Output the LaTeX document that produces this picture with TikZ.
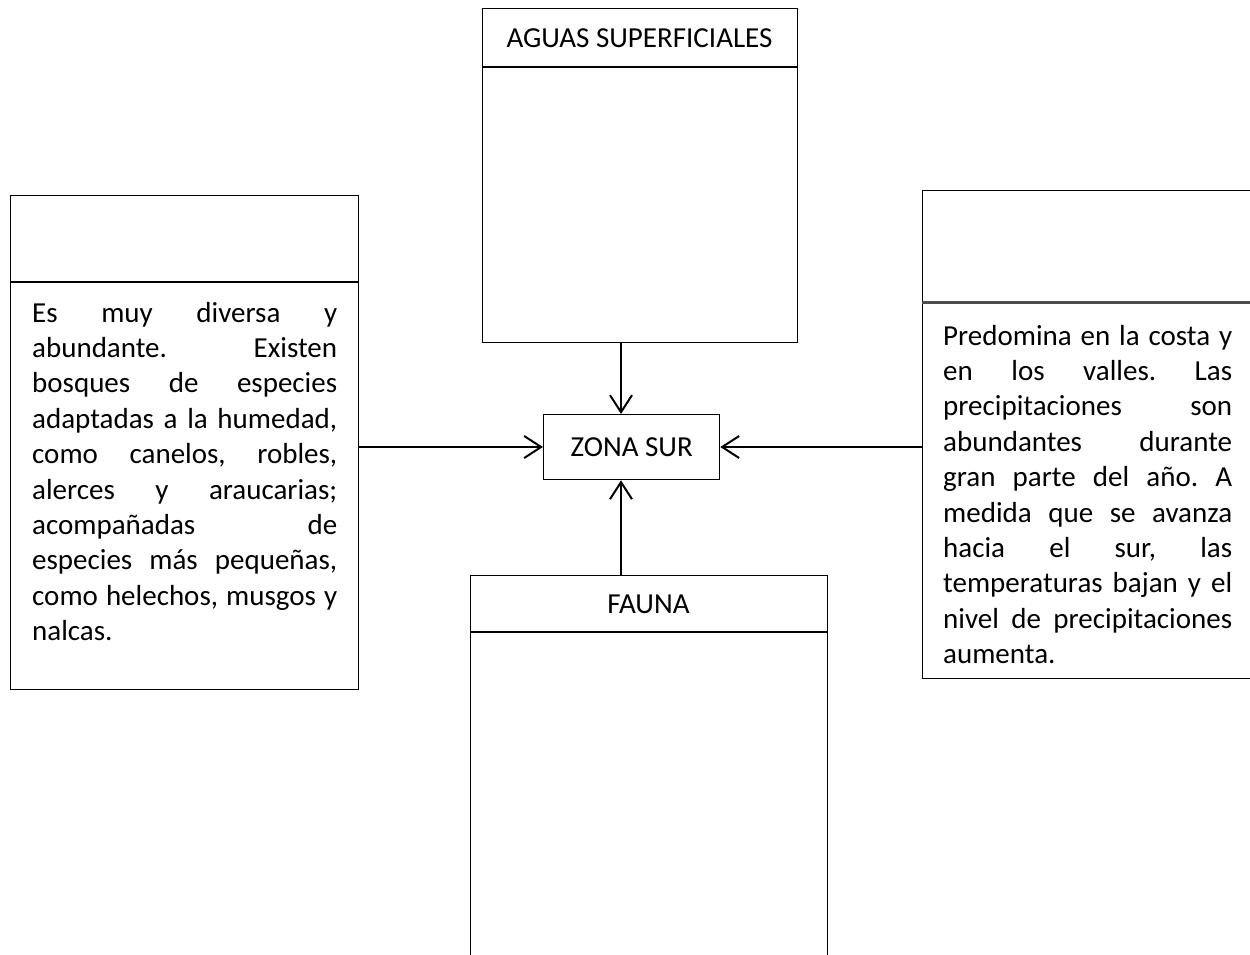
\documentclass[tikz,border=0pt]{standalone}
\usepackage{fontspec}
\setmainfont{Carlito}
\usetikzlibrary{arrows.meta}
\frenchspacing
\begin{document}
\begin{tikzpicture}[x=1pt,y=-1pt,
  box/.style={draw=black, line width=1.3pt, rectangle, inner sep=0pt, anchor=north west},
  txt/.style={font=\fontsize{29}{35.4}\selectfont},
  head/.style={txt, anchor=base, inner sep=0pt},
  body/.style={txt, text width=#1, align=justify, inner sep=0pt, anchor=north west},
  divider/.style={line width=1.3pt},
  arr/.style={line width=2pt, -{Straight Barb[length=17pt,width=22pt]}}]
\clip (0,0) rectangle (1250,954);
\fill[white] (0,0) rectangle (1250,954);

% boxes
\node[box, minimum width=315pt, minimum height=334pt] (aguas) at (482,8) {};
\node[box, minimum width=348pt, minimum height=494pt] (flora) at (10,195) {};
\node[box, minimum width=338pt, minimum height=488pt] (clima) at (922,190) {};
\node[box, minimum width=357pt, minimum height=405pt] (fauna) at (470,575) {};
\node[box, minimum width=176pt, minimum height=65pt, txt] (zona) at (543,414) {ZONA SUR};

% dividers
\draw[divider] ([yshift=-59pt]aguas.north west) -- ([yshift=-59pt]aguas.north east);
\draw[divider] ([yshift=-87pt]flora.north west) -- ([yshift=-87pt]flora.north east);
\draw[line width=3pt, black!70] ([yshift=-112pt]clima.north west) -- ([yshift=-112pt]clima.north east);
\draw[divider] ([yshift=-57pt]fauna.north west) -- ([yshift=-57pt]fauna.north east);

% header texts
\node[head] (aguast) at (639.5,47) {AGUAS SUPERFICIALES};
\node[head] (faunat) at (648.5,613) {FAUNA};

% body texts
\node[body=305pt] (florat) at (32,297.2) {\strut Es muy diversa y\linebreak
abundante. Existen\linebreak
bosques de especies\linebreak
adaptadas a la humedad,\linebreak
como canelos, robles,\linebreak
alerces y araucarias;\linebreak
acompañadas de\linebreak
especies más pequeñas,\linebreak
como helechos, musgos y\linebreak
nalcas.};

\node[body=289pt] (climat) at (943,320.2) {\strut Predomina en la costa y\linebreak
en los valles. Las\linebreak
precipitaciones son\linebreak
abundantes durante\linebreak
gran parte del año. A\linebreak
medida que se avanza\linebreak
hacia el sur, las\linebreak
temperaturas bajan y el\linebreak
nivel de precipitaciones\linebreak
aumenta.};

% connectors
\coordinate (ax) at (621,0);
\coordinate (ay) at (0,447);
\draw[arr] (aguas.south -| ax) -- (zona.north -| ax);
\draw[arr] (fauna.north -| ax) -- (zona.south -| ax);
\draw[arr] (flora.east |- ay) -- (zona.west |- ay);
\draw[arr] (clima.west |- ay) -- (zona.east |- ay);
\end{tikzpicture}
\end{document}
